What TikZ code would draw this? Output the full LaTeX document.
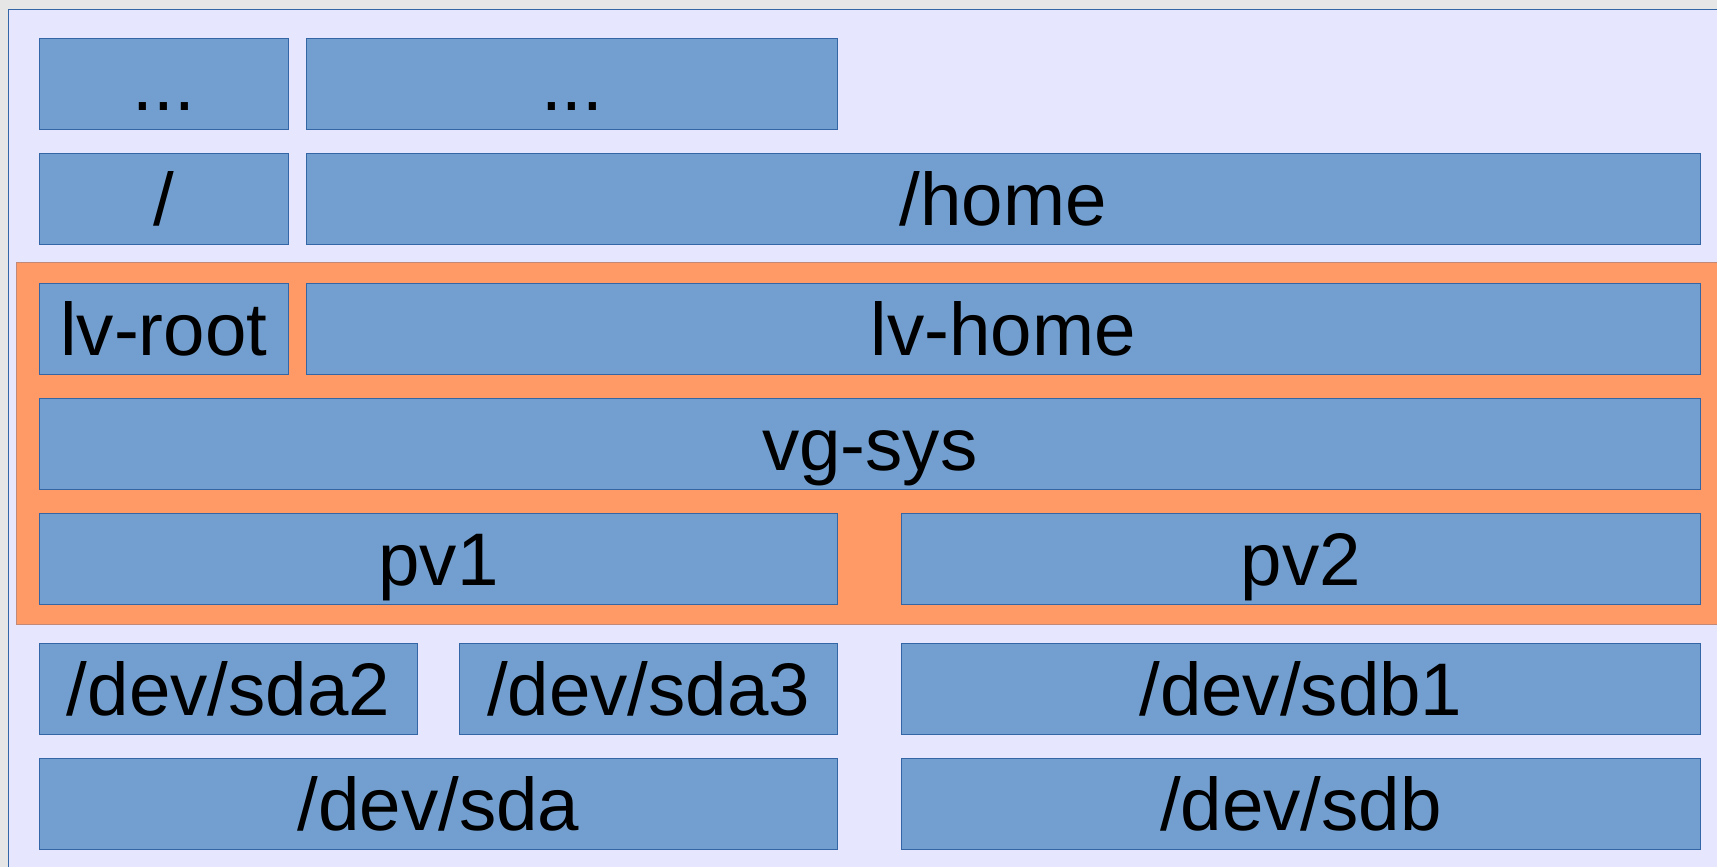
\documentclass[tikz,border=0pt]{standalone}
\usepackage{fontspec}
\setmainfont{Liberation Sans}
\usepackage[dvipsnames]{xcolor}

\definecolor{pagegray}{HTML}{E6E6E6}
\definecolor{panel}{HTML}{E6E6FF}
\definecolor{boxfill}{HTML}{729FCF}
\definecolor{boxline}{HTML}{3465A4}
\definecolor{lvmorange}{HTML}{FF9966}

\begin{document}
\begin{tikzpicture}[x=1pt,y=-1pt,
    layer/.style={draw=boxline, fill=boxfill, line width=1pt, inner sep=0pt, outer sep=0pt,
        minimum height=91pt, text height=69pt, text depth=15.5pt,
        font=\fontsize{74.5pt}{86pt}\selectfont}]

    \useasboundingbox (0,0) rectangle (1717,867);
    \fill[pagegray] (0,0) rectangle (1717,867);
    \draw[boxline, fill=panel, line width=1pt] (8.3,10) rectangle (1730,880);

    % lvm part
    \draw[fill=lvmorange, draw=boxline!30!lvmorange, line width=0.8pt] (16.3,262) rectangle (1730,624.3);

    \node[layer, minimum width=249pt]    (dotsa) at (163.8,83.8)   {...};
    \node[layer, minimum width=531pt]    (dotsb) at (572.2,83.8)   {...};

    \node[layer, minimum width=249pt]    (root)  at (163.8,198.8)  {/};
    \node[layer, minimum width=1393.3pt] (home)  at (1003.35,198.8) {/home};

    \node[layer, minimum width=249pt]    (lvroot) at (163.8,329)   {lv-root};
    \node[layer, minimum width=1393.3pt] (lvhome) at (1003.35,329) {lv-home};

    \node[layer, minimum width=1660.7pt] (vgsys) at (869.65,443.8) {vg-sys};

    \node[layer, minimum width=798.4pt]  (pv1) at (438.5,558.8)    {pv1};
    \node[layer, minimum width=798.3pt]  (pv2) at (1300.85,558.8)  {pv2};

    \node[layer, minimum width=378.4pt]  (sda2) at (228.5,688.8)   {/dev/sda2};
    \node[layer, minimum width=378pt]    (sda3) at (648.7,688.8)   {/dev/sda3};
    \node[layer, minimum width=798.3pt]  (sdb1) at (1300.85,688.8) {/dev/sdb1};

    \node[layer, minimum width=798.4pt]  (sda) at (438.5,803.8)    {/dev/sda};
    \node[layer, minimum width=798.3pt]  (sdb) at (1300.85,803.8)  {/dev/sdb};

\end{tikzpicture}
\end{document}
